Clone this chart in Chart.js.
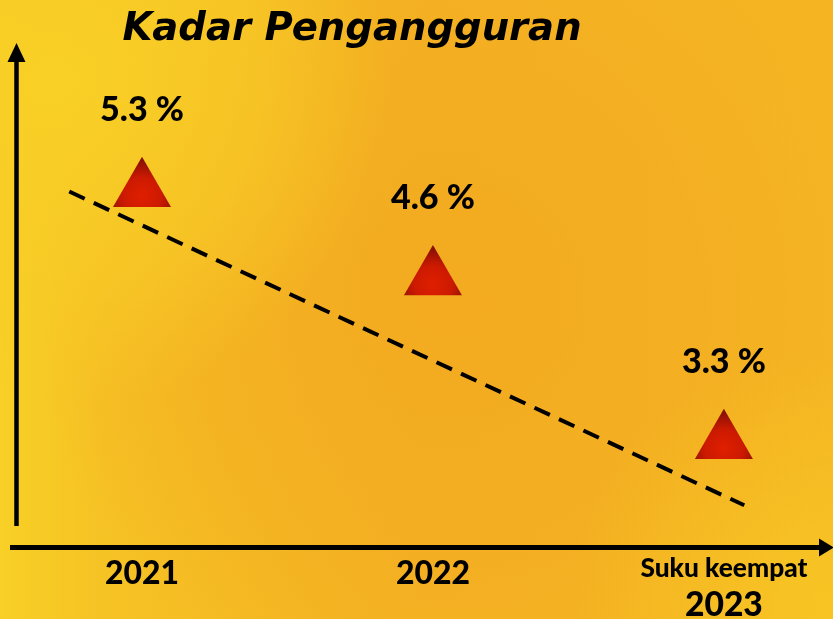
<!DOCTYPE html>
<html>
<head>
<meta charset="utf-8">
<script src="https://cdn.jsdelivr.net/npm/chart.js@4.4.0/dist/chart.umd.min.js"></script>
<style>
html,body{margin:0;padding:0;background:#f5b623;}
#wrap{width:833px;height:619px;position:relative;}
</style>
</head>
<body>
<div id="wrap"><canvas id="c" width="833" height="619"></canvas></div>
<script>
// ---- data ----
const titleText = "Kadar Pengangguran";
const years = [0, 1, 2];
const yearLabels = ["2021", "2022", "2023"];
const yearSubLabels = ["", "", "Suku keempat"];
const rates = [5.3, 4.6, 3.3];
const rateLabels = ["5.3 %", "4.6 %", "3.3 %"];
const trendX = [-0.25, 2.07];
const trendY = [5.29, 2.80];

const FAM = "Lato, 'DejaVu Sans', sans-serif";
const TFAM = "'DejaVu Sans', 'Noto Sans', sans-serif";
const PR = 33.5; // triangle radius

function fitFont(ctx, text, width, style, fam) {
  fam = fam || FAM;
  ctx.font = style + " 100px " + fam;
  const w = ctx.measureText(text).width;
  return style + " " + (100 * width / w).toFixed(1) + "px " + fam;
}

const bgPlugin = {
  id: 'bg',
  beforeDraw(chart) {
    const ctx = chart.ctx, W = chart.width, H = chart.height;
    ctx.save();
    const g = ctx.createLinearGradient(0, 0, W, 0);
    g.addColorStop(0, '#f8d026');
    g.addColorStop(0.12, '#f6c324');
    g.addColorStop(0.5, '#f4b322');
    g.addColorStop(1, '#f5b523');
    ctx.fillStyle = g;
    ctx.fillRect(0, 0, W, H);
    const rg = ctx.createRadialGradient(450, 300, 40, 450, 300, 420);
    rg.addColorStop(0, 'rgba(243,170,32,0.9)');
    rg.addColorStop(0.6, 'rgba(243,172,33,0.5)');
    rg.addColorStop(1, 'rgba(243,172,33,0)');
    ctx.fillStyle = rg;
    ctx.fillRect(0, 0, W, H);
    const yg = ctx.createRadialGradient(60, 80, 10, 60, 80, 330);
    yg.addColorStop(0, 'rgba(249,208,38,0.95)');
    yg.addColorStop(0.6, 'rgba(248,204,38,0.6)');
    yg.addColorStop(1, 'rgba(248,204,38,0)');
    ctx.fillStyle = yg;
    ctx.fillRect(0, 0, W, H);
    const br = ctx.createRadialGradient(830, 610, 10, 830, 610, 260);
    br.addColorStop(0, 'rgba(248,200,36,0.8)');
    br.addColorStop(1, 'rgba(248,200,36,0)');
    ctx.fillStyle = br;
    ctx.fillRect(0, 0, W, H);
    ctx.restore();
  }
};

const decoPlugin = {
  id: 'deco',
  afterDraw(chart) {
    const ctx = chart.ctx;
    const xs = chart.scales.x;
    ctx.save();
    ctx.fillStyle = '#000';
    ctx.strokeStyle = '#000';
    const ax = 16.5, ay = 547.5;
    ctx.lineWidth = 4.5;
    ctx.beginPath(); ctx.moveTo(ax, 526); ctx.lineTo(ax, 58); ctx.stroke();
    ctx.beginPath(); ctx.moveTo(ax, 43); ctx.lineTo(ax - 9, 62); ctx.lineTo(ax + 9, 62); ctx.closePath(); ctx.fill();
    ctx.lineWidth = 5;
    ctx.beginPath(); ctx.moveTo(10, ay); ctx.lineTo(822, ay); ctx.stroke();
    ctx.beginPath(); ctx.moveTo(834, ay); ctx.lineTo(819, ay - 9); ctx.lineTo(819, ay + 9); ctx.closePath(); ctx.fill();

    ctx.textAlign = 'center';
    ctx.textBaseline = 'alphabetic';
    ctx.font = fitFont(ctx, titleText, 460, 'italic bold', TFAM);
    ctx.fillText(titleText, 352, 40);

    const meta = chart.getDatasetMeta(0);
    meta.data.forEach((pt, i) => {
      ctx.font = fitFont(ctx, rateLabels[i], 84, '900');
      ctx.fillText(rateLabels[i], pt.x, pt.y - PR - 36);
    });

    years.forEach((v, i) => {
      const px = xs.getPixelForValue(v);
      if (yearSubLabels[i]) {
        ctx.font = fitFont(ctx, yearSubLabels[i], 167, '900');
        ctx.fillText(yearSubLabels[i], px, 577);
        ctx.font = fitFont(ctx, yearLabels[i], 78, '900');
        ctx.fillText(yearLabels[i], px, 616);
      } else {
        ctx.font = fitFont(ctx, yearLabels[i], 74, '900');
        ctx.fillText(yearLabels[i], px, 584);
      }
    });
    ctx.restore();
  }
};

function triGradient(context) {
  const chart = context.chart;
  const el = context.element;
  if (!el || !isFinite(el.x) || !isFinite(el.y)) return '#d41b00';
  const px = el.x, py = el.y;
  const g = chart.ctx.createRadialGradient(px, py + 6, 2, px, py + 6, 36);
  g.addColorStop(0, '#de1e00');
  g.addColorStop(0.5, '#cc1a00');
  g.addColorStop(1, '#8a1004');
  return g;
}

const ctx = document.getElementById('c').getContext('2d');
new Chart(ctx, {
  type: 'scatter',
  data: {
    datasets: [
      {
        data: years.map((x, i) => ({ x: x, y: rates[i] })),
        pointStyle: 'triangle',
        pointRadius: PR,
        pointHoverRadius: PR,
        backgroundColor: triGradient,
        borderWidth: 0,
        showLine: false
      },
      {
        data: trendX.map((x, i) => ({ x: x, y: trendY[i] })),
        showLine: true,
        borderColor: '#000',
        borderWidth: 4,
        borderDash: [17, 10],
        pointRadius: 0,
        fill: false
      }
    ]
  },
  options: {
    responsive: false,
    animation: false,
    layout: { autoPadding: false, padding: { left: 17, right: 0, top: 0, bottom: 71 } },
    plugins: { legend: { display: false }, tooltip: { enabled: false } },
    scales: {
      x: { type: 'linear', display: false, min: -0.4296, max: 2.375 },
      y: { type: 'linear', display: false, min: 2.461, max: 6.81 }
    }
  },
  plugins: [bgPlugin, decoPlugin]
});
</script>
</body>
</html>
